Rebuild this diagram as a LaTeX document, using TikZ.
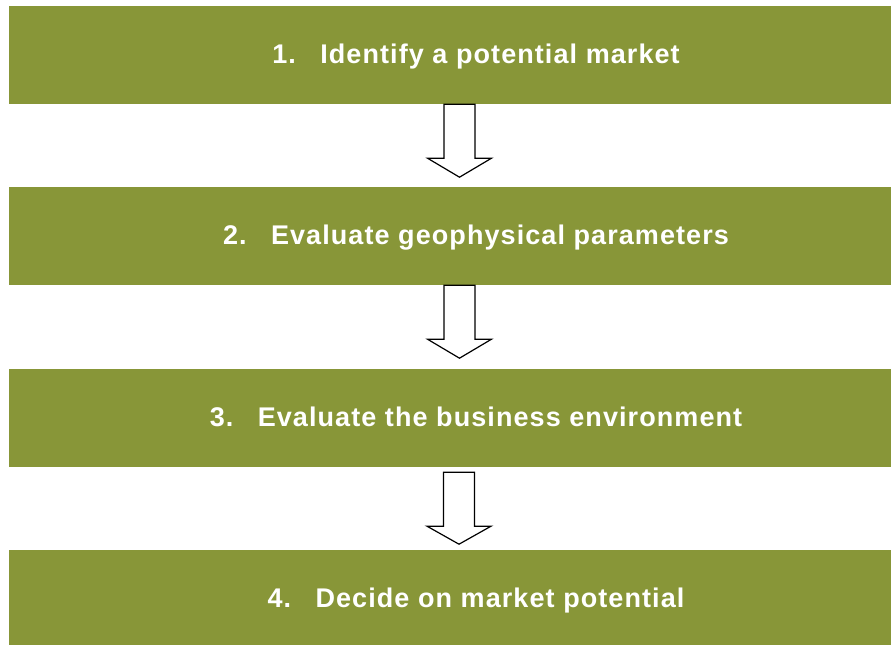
\documentclass[tikz,border=0pt]{standalone}
\usepackage{fontspec}
\newfontfamily\stepfont[LetterSpace=4]{Liberation Sans}
\definecolor{olivebox}{RGB}{136,150,56}

\tikzset{
    stepbox/.style={fill=olivebox, draw=none, minimum width=934bp, minimum height=98bp,
        text=white, font=\stepfont\bfseries\fontsize{27bp}{32bp}\selectfont,
        text height=19bp, text depth=2bp},
    hollowarrow/.style={draw=black, fill=white, line width=1.2bp, line join=miter}
}

\begin{document}
\begin{tikzpicture}[x=1bp, y=-1bp]
        \useasboundingbox (0,0) rectangle (891,645);

        % Steps
        \node[stepbox] (market) at (476,55) {\makebox[48bp][l]{1.}Identify a potential market};
        \node[stepbox] (geophys) at (476,236) {\makebox[48bp][l]{2.}Evaluate geophysical parameters};
        \node[stepbox] (business) at (476,418) {\makebox[48bp][l]{3.}Evaluate the business environment};
        \node[stepbox] (decide) at (476,599) {\makebox[48bp][l]{4.}Decide on market potential};

        % Block arrows between the steps
        \draw[hollowarrow] ([xshift=-16.5bp]market.south) ++(-15.5,0) -- ++(0,54) -- ++(-16.5,0)
            -- ++(32,19) -- ++(32,-19) -- ++(-16.5,0) -- ++(0,-54) -- cycle;
        \draw[hollowarrow] ([xshift=-16.5bp]geophys.south) ++(-15.5,0) -- ++(0,54) -- ++(-16.5,0)
            -- ++(32,19) -- ++(32,-19) -- ++(-16.5,0) -- ++(0,-54) -- cycle;
        \draw[hollowarrow] ([xshift=-17bp,yshift=-5bp]business.south) ++(-15.5,0) -- ++(0,54) -- ++(-16.5,0)
            -- ++(32,18) -- ++(32,-18) -- ++(-16.5,0) -- ++(0,-54) -- cycle;

\end{tikzpicture}
\end{document}
